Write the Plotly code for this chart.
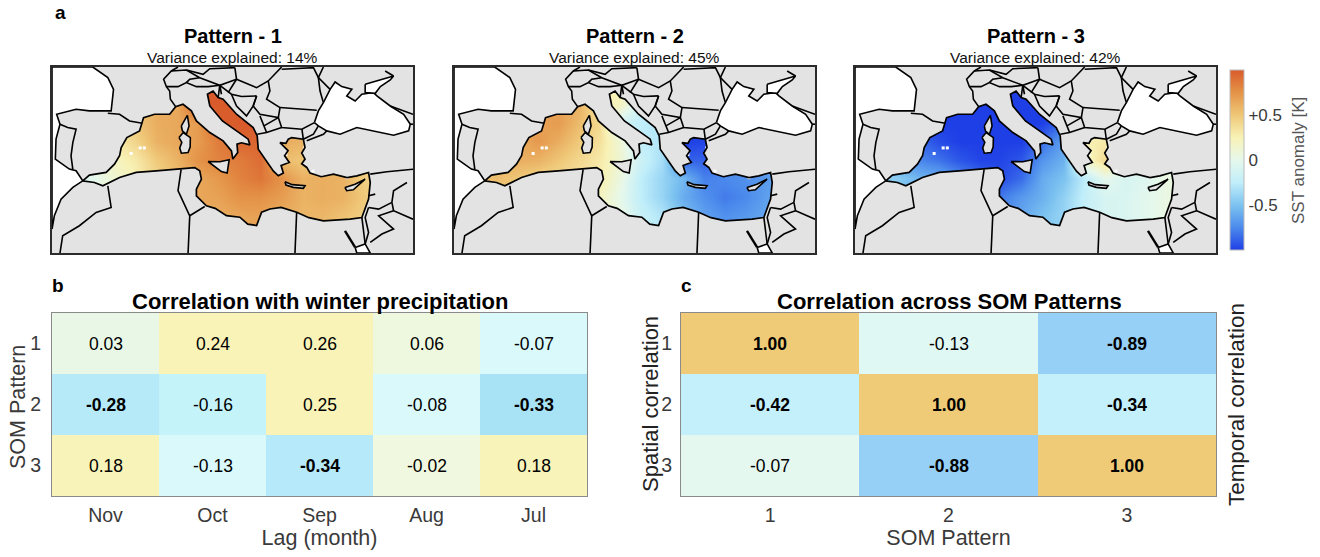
import plotly.graph_objects as go

W, H = 1320, 557
FONT = "Liberation Sans"

# ---------- data ----------
sst_lon = [-7, -4, -1, 2, 5, 8, 11, 14, 17, 20, 23, 26, 29, 32, 35, 38]
sst_lat = [30, 32, 34, 36, 38, 40, 42, 44, 46]

pattern1 = [
    [0.0, 0.05, 0.2, 0.35, 0.5, 0.6, 0.62, 0.62, 0.68, 0.7, 0.62, 0.58, 0.58, 0.52, 0.45, 0.45],
    [0.0, 0.05, 0.2, 0.35, 0.5, 0.6, 0.62, 0.62, 0.66, 0.68, 0.62, 0.58, 0.58, 0.52, 0.45, 0.45],
    [0.0, 0.05, 0.2, 0.35, 0.5, 0.6, 0.65, 0.68, 0.75, 0.75, 0.7, 0.6, 0.62, 0.6, 0.48, 0.45],
    [-0.08, -0.02, 0.12, 0.25, 0.42, 0.55, 0.65, 0.72, 0.82, 0.88, 0.75, 0.6, 0.62, 0.6, 0.45, 0.45],
    [0.1, 0.1, 0.2, 0.3, 0.48, 0.6, 0.75, 0.82, 0.85, 0.92, 0.55, 0.5, 0.5, 0.5, 0.5, 0.5],
    [0.2, 0.2, 0.3, 0.42, 0.6, 0.65, 0.7, 0.85, 0.95, 0.95, 0.62, 0.6, 0.5, 0.5, 0.5, 0.5],
    [0.3, 0.3, 0.4, 0.5, 0.62, 0.65, 0.7, 0.98, 1.0, 1.0, 0.7, 0.6, 0.5, 0.5, 0.5, 0.5],
    [0.3, 0.3, 0.4, 0.5, 0.62, 0.65, 1.0, 1.0, 1.0, 1.0, 0.7, 0.6, 0.5, 0.5, 0.5, 0.5],
    [0.3, 0.3, 0.4, 0.5, 0.62, 0.65, 1.0, 1.0, 1.0, 1.0, 0.7, 0.6, 0.5, 0.5, 0.5, 0.5],
]
pattern2 = [
    [0.5, 0.5, 0.5, 0.4, 0.35, 0.3, 0.2, 0.05, -0.2, -0.3, -0.5, -0.65, -0.7, -0.65, -0.6, -0.6],
    [0.5, 0.5, 0.5, 0.4, 0.35, 0.3, 0.2, 0.05, -0.2, -0.3, -0.5, -0.65, -0.72, -0.68, -0.62, -0.6],
    [0.5, 0.5, 0.5, 0.4, 0.35, 0.3, 0.2, 0.0, -0.25, -0.4, -0.6, -0.72, -0.8, -0.75, -0.65, -0.6],
    [0.5, 0.55, 0.5, 0.42, 0.4, 0.35, 0.28, 0.05, -0.25, -0.4, -0.55, -0.78, -0.75, -0.72, -0.68, -0.6],
    [0.5, 0.55, 0.62, 0.6, 0.5, 0.4, 0.3, 0.12, -0.18, -0.35, -0.88, -0.88, -0.8, -0.7, -0.6, -0.6],
    [0.5, 0.55, 0.62, 0.72, 0.62, 0.48, 0.35, 0.1, -0.25, -0.3, -1.0, -0.98, -0.8, -0.7, -0.6, -0.6],
    [0.5, 0.55, 0.62, 0.68, 0.7, 0.55, 0.4, -0.15, -0.25, -0.3, -0.9, -0.9, -0.8, -0.7, -0.6, -0.6],
    [0.5, 0.55, 0.62, 0.68, 0.7, 0.6, 0.3, 0.2, -0.2, -0.3, -0.9, -0.9, -0.8, -0.7, -0.6, -0.6],
    [0.5, 0.55, 0.62, 0.68, 0.7, 0.6, 0.3, 0.25, -0.2, -0.3, -0.9, -0.9, -0.8, -0.7, -0.6, -0.6],
]
pattern3 = [
    [-0.5, -0.5, -0.6, -0.7, -0.8, -0.85, -0.8, -0.6, -0.5, -0.4, -0.2, -0.1, -0.08, -0.02, 0.05, 0.05],
    [-0.5, -0.5, -0.6, -0.7, -0.8, -0.85, -0.8, -0.62, -0.5, -0.4, -0.22, -0.1, -0.08, -0.02, 0.05, 0.05],
    [-0.5, -0.5, -0.6, -0.7, -0.8, -0.85, -0.8, -0.68, -0.58, -0.42, -0.22, -0.1, -0.08, -0.02, 0.05, 0.05],
    [-0.4, -0.45, -0.55, -0.6, -0.72, -0.85, -0.95, -0.85, -0.6, -0.5, -0.25, 0.0, -0.1, -0.05, 0.05, 0.05],
    [-0.6, -0.6, -0.75, -0.82, -0.92, -0.98, -0.98, -0.92, -0.7, -0.58, 0.15, 0.4, 0.1, 0.0, 0.0, 0.0],
    [-0.8, -0.8, -0.85, -0.95, -1.0, -1.0, -1.0, -1.0, -0.85, -0.65, 0.25, 0.3, 0.1, 0.0, 0.0, 0.0],
    [-0.9, -0.9, -0.95, -1.0, -1.0, -1.0, -1.0, -1.0, -1.0, -0.85, 0.2, 0.2, 0.1, 0.0, 0.0, 0.0],
    [-0.95, -0.95, -1.0, -1.0, -1.0, -1.0, -1.0, -1.0, -1.0, -0.9, 0.2, 0.2, 0.1, 0.0, 0.0, 0.0],
    [-0.95, -0.95, -1.0, -1.0, -1.0, -1.0, -1.0, -1.0, -1.0, -0.9, 0.2, 0.2, 0.1, 0.0, 0.0, 0.0],
]
patterns = [pattern1, pattern2, pattern3]
pattern_names = ["Pattern - 1", "Pattern - 2", "Pattern - 3"]
variance = [14, 45, 42]

# Mediterranean shoreline, clockwise from Gibraltar
med_lon = [-5.57, -4.61, -2.2, -1.0, -0.27, -0.03, 0.78, 2.61, 3.19, 4.78, 6.95, 7.81, 8.87, 10.08, 10.8, 12.73,
           14.65, 15.85, 16.05, 16.75, 16.65, 17.3, 18.5, 18.26, 16.58, 14.55, 12.73, 12.39, 13.2, 13.93, 14.65,
           16.58, 18.98, 19.56, 19.71, 20.6, 21.39, 21.9, 22.6, 23.32, 23.0, 24.18, 23.5, 24.0, 22.84, 23.7, 24.04,
           24.52, 26.2, 26.45, 25.97, 26.45, 25.97, 26.7, 27.17, 28.8, 30.54, 32.5, 33.91, 35.6, 35.84, 35.6, 34.63,
           32.95, 29.1, 27.0, 25.24, 23.0, 21.39, 20.19, 19.47, 18.2, 17.06, 15.13, 13.5,
           12.24, 10.8, 10.8, 11.52, 11.28, 10.56, 8.39, 5.02, 2.13, -0.27, -2.68, -3.89]
med_lat = [35.76, 36.37, 36.66, 37.55, 38.45, 39.34, 40.41, 41.13, 42.56, 42.92, 42.92, 43.74, 43.99, 43.28, 42.2, 40.95,
           40.06, 38.98, 38.1, 38.8, 39.7, 39.85, 39.63, 40.24, 41.13, 42.2, 43.81, 45.07, 45.42, 44.71, 44.53,
           42.92, 41.49, 40.59, 39.16, 38.2, 37.37, 36.8, 36.3, 36.59, 37.4, 37.74, 38.45, 39.0, 39.87, 39.8, 40.24,
           40.41, 40.24, 39.34, 38.75, 38.1, 37.6, 37.2, 36.59, 36.2, 36.48, 36.1, 36.3, 36.66, 35.58, 33.79, 31.82,
           31.64, 31.46, 31.8, 32.38, 32.9, 32.73, 32.38, 30.95, 31.1, 31.85, 32.02, 32.8,
           33.08, 34.15, 34.87, 35.94, 36.84, 37.19, 37.08, 36.84, 36.66, 36.12, 35.22, 35.58]

island_lon = [[12.48, 14.17, 15.52, 15.23, 14.4, 13.69], [8.3, 8.9, 9.93, 9.9, 9.6, 8.63, 8.4, 8.7],
              [8.63, 9.36, 9.5, 9.74, 9.36, 8.78], [23.56, 24.6, 26.45, 26.2, 24.76, 23.7],
              [32.2, 33.65, 35.1, 33.4, 32.44]]
island_lat = [[37.84, 37.81, 38.03, 36.59, 36.75, 37.19], [40.41, 40.95, 40.41, 39.4, 38.8, 38.73, 39.3, 39.9],
              [41.66, 42.56, 42.8, 41.66, 40.77, 41.13], [35.66, 35.35, 35.23, 34.95, 35.06, 35.3],
              [35.05, 35.4, 35.94, 34.8, 34.7]]

water_lon = [
    [-10, -4.13, -1.96, -1.14, -1.48, -4.61, -6.53, -8.46, -9.33, -8.85, -9.42, -9.52, -7.5, -6.53, -5.57, -7.0, -8.7, -9.66, -10],
    [27.8, 28.37, 29.09, 30.06, 30.78, 31.74, 33.19, 32.46, 33.67, 34.63, 36.32, 36.8, 38.72, 40.65, 41.61, 41.37, 39.2, 36.32, 33.91, 31.5, 29.58, 28.37],
    [35.11, 36.8, 39.2, 38.72, 37.3, 36.56, 35.11],
    [33.67, 35.11, 35.84, 33.9],
]
water_lat = [
    [48, 48, 46.86, 45.6, 43.28, 43.28, 43.46, 43.1, 42.92, 41.85, 40.24, 38.09, 37.02, 36.84, 35.76, 35.05, 33.79, 32.0, 30.58],
    [42.02, 43.28, 44.17, 45.6, 46.39, 45.89, 45.6, 44.89, 44.35, 45.07, 45.25, 44.89, 43.81, 42.92, 41.85, 41.13, 40.66, 41.13, 41.49, 40.77, 41.13, 41.67],
    [46.14, 46.5, 47.03, 46.6, 45.89, 45.17, 45.25],
    [28.6, 28.97, 28.0, 28.0],
]

borders_lon = [
    [-1.96, -0.27, 1.17, 3.0], [-8.85, -7.74, -6.53, -7.0, -7.26, -7.0, -7.0],
    [7.81, 7.05, 6.95, 6.47, 6.08, 7.19, 8.15], [6.47, 8.15, 9.36, 10.8, 12.49, 14.17, 13.93],
    [7.19, 9.36, 11.28, 9.84, 9.36], [11.28, 14.17, 16.58, 16.34], [9.36, 11.76, 12.73, 16.34],
    [16.58, 19.47, 21.15, 23.08], [14.17, 15.85, 17.3, 19.47], [14.17, 14.41], [16.58, 15.37],
    [15.85, 16.58, 18.02, 18.98, 19.47], [19.47, 18.98],
    [21.15, 21.39, 20.91, 22.84, 22.6, 21.39, 19.95, 18.98], [22.84, 26.25, 28.13],
    [22.6, 23.08, 26.0, 27.8], [19.56, 20.91, 23.08], [19.95, 20.53, 20.91], [20.53, 22.6], [26.0, 26.2],
    [26.2, 27.66, 28.37], [26.69, 29.1, 29.58], [29.09, 28.37, 30.06], [23.08, 26.2, 27.66, 28.37, 28.61, 29.09],
    [37.99, 39.2], [38.72, 42.0], [41.61, 42.2], [35.84, 38.24, 42.0], [41.13, 39.2, 38.96], [35.6, 36.56],
    [35.6, 37.05, 38.96], [38.96, 39.2, 42.0], [39.2, 37.05, 39.2, 37.52, 35.84], [35.6, 35.11, 35.6, 35.11],
    [34.63, 35.11], [-1.96, -1.48, -3.64, -6.05, -8.46, -8.85], [8.6, 8.15, 9.84, 9.6], [12.0, 9.84],
    [25.24, 25.0],
]
borders_lat = [
    [43.03, 42.92, 42.2, 41.95], [41.85, 41.49, 41.31, 39.87, 38.45, 37.37, 37.0],
    [43.74, 44.53, 45.42, 45.89, 46.68, 47.57, 48.0], [45.89, 45.89, 46.32, 45.89, 45.89, 46.03, 44.71],
    [47.57, 47.68, 46.85, 46.68, 46.32], [46.85, 46.03, 46.68, 47.93], [47.68, 47.21, 47.82, 47.93],
    [46.68, 45.78, 46.5, 48.0], [46.03, 45.07, 44.82, 44.89], [46.03, 45.07], [46.68, 45.25],
    [45.07, 43.81, 42.74, 43.81, 44.89], [44.89, 43.81],
    [46.5, 45.42, 44.53, 43.64, 42.56, 42.74, 42.92, 43.81], [43.64, 43.46, 43.35],
    [42.56, 41.49, 41.31, 42.02], [40.77, 40.95, 41.49], [42.74, 41.67, 40.95], [41.67, 42.56], [41.31, 40.24],
    [40.24, 40.77, 41.67], [40.06, 40.77, 41.13], [48.0, 46.86, 45.6], [47.75, 47.82, 47.93, 46.86, 45.42, 44.17],
    [47.57, 47.03], [43.81, 42.92], [41.85, 41.85], [36.48, 36.73, 37.0], [35.58, 34.69, 33.44], [34.15, 34.33],
    [32.9, 32.72, 33.44], [33.44, 32.54, 31.64], [32.54, 32.0, 30.57, 30.04, 29.15], [32.9, 31.82, 30.2, 28.97],
    [31.82, 28.97], [35.23, 32.9, 32.36, 30.93, 29.86, 28.0], [37.0, 34.7, 32.0, 28.0], [33.0, 32.0],
    [32.38, 28.0],
]
suez_lon = [32.2, 33.67]
suez_lat = [30.39, 28.6]
speck_lon = [2.7, 3.3, 1.4, 23.7, 26.4, 27.6, 32.5]
speck_lat = [39.3, 39.3, 38.7, 38.6, 39.3, 36.8, 36.1]

months = ["Nov", "Oct", "Sep", "Aug", "Jul"]
som_labels = ["1", "2", "3"]
precip_corr = [[0.03, 0.24, 0.26, 0.06, -0.07],
               [-0.28, -0.16, 0.25, -0.08, -0.33],
               [0.18, -0.13, -0.34, -0.02, 0.18]]
precip_bold = [[0, 0, 0, 0, 0], [1, 0, 0, 0, 1], [0, 0, 1, 0, 0]]
som_corr = [[1.00, -0.13, -0.89], [-0.42, 1.00, -0.34], [-0.07, -0.88, 1.00]]
som_bold = [[1, 0, 1], [1, 1, 1], [0, 1, 1]]

# ---------- colours ----------
LAND = "#e3e3e3"
sst_scale = [[0, "#1f3fe6"], [0.125, "#4c8aec"], [0.25, "#7dc3f0"], [0.375, "#c0eefa"], [0.5, "#e6f8ec"],
             [0.625, "#f8f2b6"], [0.75, "#efc777"], [0.875, "#e49348"], [1, "#d95b2b"]]


def stops(zmin, zmax, pairs):
    return [[(v - zmin) / (zmax - zmin), c] for v, c in pairs]


precip_scale = stops(-0.34, 0.26, [(-0.34, "#b6e9f9"), (-0.33, "#a8e3f5"), (-0.28, "#b6eaf9"), (-0.16, "#c5f3fa"),
                                   (-0.13, "#daf9fa"), (-0.07, "#daf9fa"), (-0.02, "#f0f9df"), (0.03, "#e9f8e6"),
                                   (0.06, "#eef8de"), (0.18, "#f8f3b9"), (0.26, "#f9f3b8")])
som_scale = stops(-0.89, 1.0, [(-0.89, "#97d0f6"), (-0.88, "#97d0f6"), (-0.42, "#c4f0fc"), (-0.34, "#c4f0fc"),
                               (-0.13, "#e0f8f4"), (-0.07, "#e5f8ef"), (1.0, "#efcb77")])


def cell_text(values, bold):
    return [[f"<b>{v:.2f}</b>" if b else f"{v:.2f}" for v, b in zip(rv, rb)] for rv, rb in zip(values, bold)]


def px_x(a, b):
    return [a / W, b / W]


def px_y(top, bottom):
    return [1 - bottom / H, 1 - top / H]


def note(text, x, y, size, color="black", angle=0):
    return dict(text=text, x=x / W, y=1 - y / H, xref="paper", yref="paper", xanchor="center", yanchor="middle",
                showarrow=False, textangle=angle, font=dict(size=size, color=color))


fig = go.Figure()
map_boxes = [(52, 413), (454, 815), (855, 1216)]
MAP_TOP, MAP_BOT = 67, 253
annots = []
layout_axes = {}

for i, (pat, box) in enumerate(zip(patterns, map_boxes)):
    n = i + 1
    xa, ya = ("x" if n == 1 else f"x{n}"), ("y" if n == 1 else f"y{n}")
    common = dict(showgrid=False, zeroline=False, showticklabels=False, ticks="", showline=True,
                  mirror=True, linecolor="#2b2b2b", linewidth=2)
    layout_axes["xaxis" if n == 1 else f"xaxis{n}"] = dict(domain=px_x(*box), range=[-10, 42], anchor=ya, **common)
    layout_axes["yaxis" if n == 1 else f"yaxis{n}"] = dict(domain=px_y(MAP_TOP, MAP_BOT), range=[28, 48], anchor=xa, **common)
    fig.add_trace(go.Heatmap(x=sst_lon, y=sst_lat, z=pat, coloraxis="coloraxis", zsmooth="best",
                             xaxis=xa, yaxis=ya, hoverinfo="skip"))
    # land = map frame with the sea cut out
    land_x = [-10, 42, 42, -10, -10] + med_lon[::-1] + [med_lon[0]] + [-10, -10]
    land_y = [48, 48, 28, 28, med_lat[0]] + med_lat[::-1] + [med_lat[0]] + [med_lat[0], 48]
    fig.add_trace(go.Scatter(x=land_x, y=land_y, mode="lines", fill="toself", fillcolor=LAND,
                             line=dict(width=0), xaxis=xa, yaxis=ya, hoverinfo="skip"))
    fig.add_trace(go.Scatter(x=speck_lon, y=speck_lat, mode="markers",
                             marker=dict(color="white", size=3, symbol="square"),
                             xaxis=xa, yaxis=ya, hoverinfo="skip"))
    for lo, la in zip(island_lon, island_lat):
        fig.add_trace(go.Scatter(x=lo + lo[:1], y=la + la[:1], mode="lines", fill="toself", fillcolor=LAND,
                                 line=dict(color="black", width=1.6), xaxis=xa, yaxis=ya, hoverinfo="skip"))
    for lo, la in zip(water_lon, water_lat):
        fig.add_trace(go.Scatter(x=lo + lo[:1], y=la + la[:1], mode="lines", fill="toself", fillcolor="white",
                                 line=dict(color="black", width=1.6), xaxis=xa, yaxis=ya, hoverinfo="skip"))
    fig.add_trace(go.Scatter(x=med_lon + med_lon[:1], y=med_lat + med_lat[:1], mode="lines",
                             line=dict(color="black", width=1.7), xaxis=xa, yaxis=ya, hoverinfo="skip"))
    bx, by = [], []
    for lo, la in zip(borders_lon, borders_lat):
        bx += lo + [None]
        by += la + [None]
    fig.add_trace(go.Scatter(x=bx, y=by, mode="lines", line=dict(color="black", width=1.6),
                             connectgaps=False, xaxis=xa, yaxis=ya, hoverinfo="skip"))
    fig.add_trace(go.Scatter(x=suez_lon, y=suez_lat, mode="lines", line=dict(color="black", width=2.4),
                             xaxis=xa, yaxis=ya, hoverinfo="skip"))
    cx = sum(box) / 2
    annots.append(note(f"<b>{pattern_names[i]}</b>", cx, 36, 20))
    annots.append(note(f"Variance explained: {variance[i]}%", cx, 57, 15.5, "#111111"))

tick_font = dict(size=19.5, color="#3a3a3a", family=FONT)
title_font = dict(size=21.5, color="#3a3a3a", family=FONT)
panel_box = [(52, 587), (681, 1216)]
P_TOP, P_BOT = 313, 496
heat_specs = [
    (months, precip_corr, precip_bold, precip_scale, -0.34, 0.26, "Lag (month)", 6),
    (som_labels, som_corr, som_bold, som_scale, -0.89, 1.0, "SOM Pattern", 4),
]
for j, (xs, vals, bold, scale, zmin, zmax, xt, ylen) in enumerate(heat_specs):
    n = 4 + j
    fig.add_trace(go.Heatmap(x=xs, y=som_labels, z=vals, text=cell_text(vals, bold), texttemplate="%{text}",
                             textfont=dict(size=17.5, color="black", family=FONT), colorscale=scale,
                             zmin=zmin, zmax=zmax, showscale=False, xaxis=f"x{n}", yaxis=f"y{n}", hoverinfo="skip"))
    layout_axes[f"xaxis{n}"] = dict(domain=px_x(*panel_box[j]), anchor=f"y{n}", type="category", tickfont=tick_font,
                                    showgrid=False, zeroline=False, showline=True, mirror=True, linecolor="#8a8a8a",
                                    linewidth=1, ticks="outside", ticklen=2, tickcolor="rgba(0,0,0,0)",
                                    title=dict(text=xt, font=title_font, standoff=2))
    layout_axes[f"yaxis{n}"] = dict(domain=px_y(P_TOP, P_BOT), anchor=f"x{n}", type="category", autorange="reversed",
                                    tickfont=tick_font, showgrid=False, zeroline=False, showline=True, mirror=True,
                                    linecolor="#8a8a8a", linewidth=1, ticks="outside", ticklen=ylen,
                                    tickcolor="rgba(0,0,0,0)")

annots += [note("<b>a</b>", 60, 12, 19), note("<b>b</b>", 58, 285, 19), note("<b>c</b>", 686, 285, 19),
           note("<b>Correlation with winter precipitation</b>", 320, 301, 22),
           note("<b>Correlation across SOM Patterns</b>", 949, 301, 22),
           note("SOM Pattern", 18, 407, 21.5, "#3a3a3a", -90),
           note("Spatial correlation", 650, 404, 22, "#222222", -90),
           note("Temporal correlation", 1236, 405, 22.4, "#222222", -90),
           note("SST anomaly [K]", 1299, 161, 17, "#555555", -90)]

fig.update_layout(
    width=W, height=H, margin=dict(l=0, r=0, t=0, b=0), paper_bgcolor="white", plot_bgcolor="white",
    showlegend=False, font=dict(family=FONT, color="#222222"), annotations=annots,
    coloraxis=dict(colorscale=sst_scale, cmin=-1, cmax=1,
                   colorbar=dict(x=1230 / W, xanchor="left", y=1 - 70 / H, yanchor="top", lenmode="pixels", len=180,
                                 xpad=0, ypad=0, thicknessmode="pixels", thickness=14, tickvals=[-0.5, 0, 0.5],
                                 ticktext=["-0.5", "0", "+0.5"], ticks="", tickfont=dict(size=17, color="#3a3a3a"),
                                 outlinecolor="#bbbbbb", outlinewidth=1)),
    **layout_axes,
)
fig.write_html("out.html", config={"displayModeBar": False}, post_script="document.body.style.margin='0';")
